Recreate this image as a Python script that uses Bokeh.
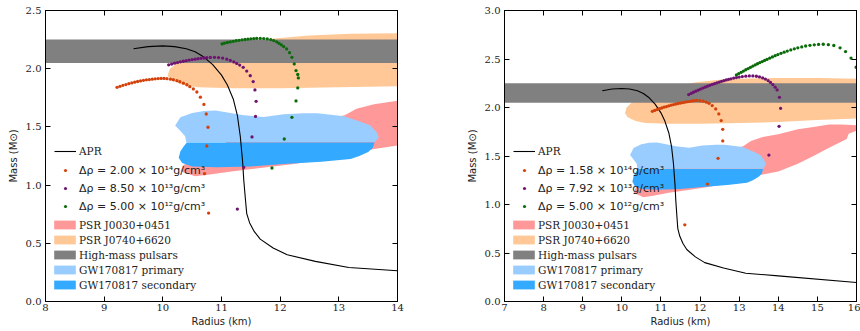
from bokeh.plotting import figure
from bokeh.layouts import row
from bokeh.models import Range1d, LinearAxis, FixedTicker, PrintfTickFormatter, Legend, LegendItem
from bokeh.embed import file_html
from bokeh.resources import INLINE

# ---------------- data ----------------
# APR equation of state, mass-radius
APR_R = [9.50, 9.75, 10.00, 10.20, 10.40, 10.55, 10.70, 10.85, 11.00, 11.10, 11.20, 11.27, 11.32,
         11.36, 11.38, 11.41, 11.43, 11.48, 11.56, 11.66, 11.88, 12.12, 12.60, 13.17, 14.00, 16.00]
APR_M = [2.172, 2.190, 2.196, 2.190, 2.172, 2.145, 2.100, 2.035, 1.945, 1.860, 1.740, 1.600, 1.420,
         1.200, 1.040, 0.866, 0.755, 0.675, 0.600, 0.536, 0.460, 0.401, 0.345, 0.292, 0.264, 0.196]

# left panel series
L_LABELS = ["Δρ = 2.00 × 10¹⁴g/cm³", "Δρ = 8.50 × 10¹³g/cm³", "Δρ = 5.00 × 10¹²g/cm³"]
L1_R = [9.22, 9.27, 9.32, 9.37, 9.42, 9.47, 9.52, 9.57, 9.62, 9.67, 9.72, 9.77, 9.82, 9.87, 9.92, 9.97,
        10.02, 10.07, 10.13, 10.18, 10.24, 10.29, 10.35, 10.41, 10.46, 10.52, 10.58, 10.64, 10.70,
        10.74, 10.77, 10.75, 10.71, 10.78]
L1_M = [1.840, 1.849, 1.857, 1.864, 1.871, 1.878, 1.884, 1.890, 1.895, 1.900, 1.904, 1.907, 1.910,
        1.913, 1.915, 1.916, 1.916, 1.914, 1.910, 1.905, 1.897, 1.888, 1.876, 1.862, 1.846, 1.826,
        1.800, 1.755, 1.693, 1.611, 1.497, 1.336, 1.098, 0.760]
L2_R = [10.10, 10.15, 10.20, 10.25, 10.30, 10.35, 10.40, 10.45, 10.50, 10.55, 10.60, 10.65, 10.70,
        10.75, 10.81, 10.88, 10.95, 11.02, 11.09, 11.15, 11.21, 11.26, 11.31, 11.37, 11.43, 11.49,
        11.54, 11.57, 11.59, 11.58, 11.52, 11.38, 11.27]
L2_M = [2.033, 2.040, 2.047, 2.053, 2.059, 2.064, 2.069, 2.074, 2.078, 2.082, 2.086, 2.089, 2.092,
        2.095, 2.097, 2.098, 2.096, 2.091, 2.082, 2.071, 2.058, 2.045, 2.031, 2.012, 1.980, 1.940,
        1.889, 1.818, 1.720, 1.590, 1.414, 1.153, 0.794]
L3_R = [11.01, 11.05, 11.10, 11.15, 11.20, 11.25, 11.30, 11.35, 11.40, 11.45, 11.50, 11.55, 11.60,
        11.66, 11.72, 11.78, 11.84, 11.89, 11.94, 11.98, 12.02, 12.06, 12.11, 12.16, 12.20, 12.24,
        12.27, 12.30, 12.31, 12.30, 12.27, 12.20, 12.07, 11.86]
L3_M = [2.213, 2.219, 2.225, 2.230, 2.235, 2.240, 2.244, 2.248, 2.251, 2.254, 2.257, 2.259, 2.260,
        2.260, 2.259, 2.256, 2.250, 2.242, 2.231, 2.218, 2.205, 2.190, 2.170, 2.138, 2.098, 2.041,
        1.984, 1.950, 1.921, 1.835, 1.723, 1.582, 1.396, 1.147]

# right panel series
R_LABELS = ["Δρ = 1.58 × 10¹⁴g/cm³", "Δρ = 7.92 × 10¹³g/cm³", "Δρ = 5.00 × 10¹²g/cm³"]
R1_R = [10.78, 10.84, 10.90, 10.96, 11.02, 11.08, 11.14, 11.20, 11.26, 11.32, 11.38, 11.44, 11.50,
        11.56, 11.62, 11.68, 11.74, 11.80, 11.86, 11.92, 12.00, 12.08, 12.16, 12.23, 12.31, 12.40,
        12.48, 12.54, 12.58, 12.58, 12.46, 12.19, 11.61]
R1_M = [1.961, 1.970, 1.979, 1.987, 1.995, 2.003, 2.010, 2.017, 2.024, 2.030, 2.036, 2.041, 2.046,
        2.051, 2.055, 2.060, 2.064, 2.068, 2.071, 2.073, 2.070, 2.065, 2.055, 2.043, 2.020, 1.985,
        1.934, 1.865, 1.775, 1.655, 1.476, 1.211, 0.791]
R2_R = [11.71, 11.77, 11.83, 11.89, 11.95, 12.01, 12.07, 12.13, 12.19, 12.25, 12.31, 12.37, 12.43,
        12.49, 12.55, 12.61, 12.67, 12.73, 12.79, 12.86, 12.93, 13.00, 13.08, 13.17, 13.26, 13.35,
        13.44, 13.52, 13.60, 13.67, 13.74, 13.80, 13.86, 13.92, 13.97, 14.03, 14.06, 14.02, 13.76]
R2_M = [2.133, 2.145, 2.157, 2.168, 2.179, 2.190, 2.200, 2.210, 2.220, 2.229, 2.238, 2.246, 2.254,
        2.262, 2.270, 2.277, 2.284, 2.290, 2.296, 2.303, 2.309, 2.314, 2.319, 2.323, 2.326, 2.325,
        2.322, 2.315, 2.305, 2.293, 2.278, 2.259, 2.236, 2.210, 2.181, 2.105, 1.992, 1.806, 1.510]
R3_R = [12.93, 12.99, 13.05, 13.11, 13.17, 13.23, 13.29, 13.35, 13.41, 13.47, 13.53, 13.59, 13.65,
        13.71, 13.78, 13.85, 13.92, 13.99, 14.07, 14.15, 14.23, 14.32, 14.41, 14.50, 14.60, 14.70,
        14.81, 14.92, 15.03, 15.15, 15.28, 15.42, 15.58, 15.72, 15.86, 15.99]
R3_M = [2.336, 2.350, 2.363, 2.376, 2.389, 2.401, 2.414, 2.427, 2.439, 2.451, 2.463, 2.474, 2.485,
        2.496, 2.508, 2.521, 2.534, 2.546, 2.558, 2.570, 2.582, 2.594, 2.605, 2.615, 2.625, 2.634,
        2.641, 2.646, 2.650, 2.652, 2.648, 2.639, 2.615, 2.577, 2.510, 2.415]

# observational constraints (outline polygons, R in km, M in Msun)
PSR0030_R = [10.30, 10.55, 10.80, 11.20, 11.70, 12.20, 12.70, 13.20, 13.60, 14.00, 14.50, 14.90, 15.30,
             15.75, 15.80, 16.20, 16.20, 15.60, 15.30, 14.90, 14.50, 14.00, 13.60, 13.30, 13.10, 12.90,
             12.50, 12.00, 11.50, 11.00, 10.60, 10.35]
PSR0030_M = [1.120, 1.075, 1.090, 1.120, 1.150, 1.180, 1.215, 1.260, 1.310, 1.340, 1.420, 1.500, 1.585,
             1.675, 1.730, 1.790, 1.815, 1.825, 1.825, 1.800, 1.775, 1.725, 1.695, 1.655, 1.600, 1.580,
             1.560, 1.520, 1.450, 1.350, 1.250, 1.170]
PSR0740_R = [10.08, 10.12, 10.25, 10.50, 10.90, 11.40, 11.90, 12.50, 13.20, 14.00, 15.00, 16.20,
             16.20, 15.00, 14.00, 13.00, 12.00, 11.20, 10.60, 10.35, 10.15]
PSR0740_M = [1.940, 2.000, 2.050, 2.100, 2.160, 2.220, 2.260, 2.285, 2.300, 2.305, 2.305, 2.295,
             1.890, 1.870, 1.850, 1.840, 1.833, 1.832, 1.840, 1.860, 1.900]
HIGH_MASS_M = [2.05, 2.25]
HIGH_MASS_R = [6.0, 17.0]
GW_PRI_R = [10.21, 10.30, 10.50, 10.70, 10.90, 11.10, 11.38, 11.72, 12.06, 12.40, 12.63, 13.09, 13.37,
            13.54, 13.65, 13.68, 13.61, 10.40, 10.38, 10.30]
GW_PRI_M = [1.511, 1.583, 1.620, 1.636, 1.640, 1.624, 1.600, 1.585, 1.608, 1.617, 1.617, 1.592, 1.545,
            1.511, 1.450, 1.410, 1.368, 1.368, 1.420, 1.465]
GW_SEC_R = [10.41, 13.61, 13.58, 13.50, 13.35, 13.20, 12.70, 12.06, 11.49, 10.92, 10.50, 10.33, 10.27,
            10.30, 10.36]
GW_SEC_M = [1.366, 1.366, 1.320, 1.285, 1.250, 1.225, 1.200, 1.181, 1.160, 1.153, 1.160, 1.190, 1.235,
            1.290, 1.335]

BAND_LABELS = ["PSR J0030+0451", "PSR J0740+6620", "High-mass pulsars", "GW170817 primary", "GW170817 secondary"]
BAND_COLORS = ["#ff9999", "#ffc896", "#808080", "#99ccff", "#33aaff"]
DOT_COLORS = ["#d4420c", "#6e1470", "#0b6b0b"]

SERIF = "DejaVu Serif"
SANS = "DejaVu Sans"


def make_panel(xr, yr, xticks, yticks, series, labels, border_left, border_right):
    p = figure(width=430, height=331, x_range=Range1d(*xr), y_range=Range1d(*yr),
               output_backend="svg", toolbar_location=None,
               min_border_left=border_left, min_border_right=border_right,
               min_border_top=10, min_border_bottom=30)
    p.xgrid.visible = False
    p.ygrid.visible = False
    p.outline_line_color = "black"
    p.outline_line_width = 1
    p.background_fill_color = "white"
    p.border_fill_color = "white"

    # main axes
    for ax, ticks, fmt in ((p.xaxis[0], xticks, "%d"), (p.yaxis[0], yticks, "%.1f")):
        ax.ticker = FixedTicker(ticks=ticks)
        ax.formatter = PrintfTickFormatter(format=fmt)
        ax.major_tick_in = 5
        ax.major_tick_out = 0
        ax.minor_tick_in = 0
        ax.minor_tick_out = 0
        ax.major_tick_line_color = "black"
        ax.axis_line_color = "black"
        ax.major_label_text_font = SERIF
        ax.major_label_text_font_size = "10px"
        ax.major_label_text_color = "#222222"
        ax.axis_label_text_font = SANS
        ax.axis_label_text_font_size = "10px"
        ax.axis_label_text_font_style = "normal"
        ax.axis_label_text_color = "#222222"
    p.xaxis[0].axis_label = "Radius (km)"
    p.xaxis[0].major_label_standoff = 2
    p.xaxis[0].axis_label_standoff = 2
    p.yaxis[0].axis_label = "Mass (M⊙)"
    p.yaxis[0].major_label_standoff = 4
    p.yaxis[0].axis_label_standoff = 4

    # mirrored tick marks on top and right (no labels)
    for side, ticks in (("right", yticks), ("above", xticks)):
        ax = LinearAxis(ticker=FixedTicker(ticks=ticks), major_label_text_font_size="1px",
                        major_label_text_color=None, major_label_text_alpha=0,
                        major_label_standoff=0, major_tick_in=5, major_tick_out=0,
                        minor_tick_in=0, minor_tick_out=0, axis_line_color="black")
        p.add_layout(ax, side)

    # constraint regions
    r_pink = p.patch(PSR0030_R, PSR0030_M, fill_color=BAND_COLORS[0], line_color=None)
    r_orange = p.patch(PSR0740_R, PSR0740_M, fill_color=BAND_COLORS[1], line_color=None)
    r_gray = p.quad(left=[HIGH_MASS_R[0]], right=[HIGH_MASS_R[1]], bottom=[HIGH_MASS_M[0]],
                    top=[HIGH_MASS_M[1]], fill_color=BAND_COLORS[2], line_color=None)
    r_lb = p.patch(GW_PRI_R, GW_PRI_M, fill_color=BAND_COLORS[3], line_color=None)
    r_b = p.patch(GW_SEC_R, GW_SEC_M, fill_color=BAND_COLORS[4], line_color=None)

    r_apr = p.line(APR_R, APR_M, line_color="black", line_width=1.1)

    dot_rs = []
    for (xs, ys), c in zip(series, DOT_COLORS):
        dot_rs.append(p.scatter(xs, ys, size=3.3, marker="circle", fill_color=c, line_color=None))

    common = dict(padding=0, margin=0, border_line_alpha=0, background_fill_alpha=0, spacing=0,
                  label_text_color="#222222")
    legA = Legend(items=[LegendItem(label="APR", renderers=[r_apr])], location=(9, 143),
                  glyph_width=22, glyph_height=10, label_height=14, label_standoff=3,
                  label_text_font=SERIF, label_text_font_size="10.5px", **common)
    legB = Legend(items=[LegendItem(label=l, renderers=[r]) for l, r in zip(labels, dot_rs)],
                  location=(9, 86), glyph_width=22, glyph_height=8, label_height=18, label_standoff=3,
                  label_text_font=SANS, label_text_font_size="11px", **common)
    legC = Legend(items=[LegendItem(label=l, renderers=[r]) for l, r in
                         zip(BAND_LABELS, [r_pink, r_orange, r_gray, r_lb, r_b])],
                  location=(6, 9), glyph_width=27, glyph_height=11, label_height=15, label_standoff=1,
                  label_text_font=SERIF, label_text_font_size="10.5px", **common)
    for lg in (legA, legB, legC):
        p.add_layout(lg)
    return p


left = make_panel((8, 14), (0, 2.5), [8, 9, 10, 11, 12, 13, 14], [0, 0.5, 1.0, 1.5, 2.0, 2.5],
                  [(L1_R, L1_M), (L2_R, L2_M), (L3_R, L3_M)], L_LABELS, 45, 33)
right = make_panel((7, 16), (0, 3.0), [7, 8, 9, 10, 11, 12, 13, 14, 15, 16],
                   [0, 0.5, 1.0, 1.5, 2.0, 2.5, 3.0],
                   [(R1_R, R1_M), (R2_R, R2_M), (R3_R, R3_M)], R_LABELS, 74, 4)

p = row(left, right)
open("out.html", "w").write(file_html(p, INLINE))
